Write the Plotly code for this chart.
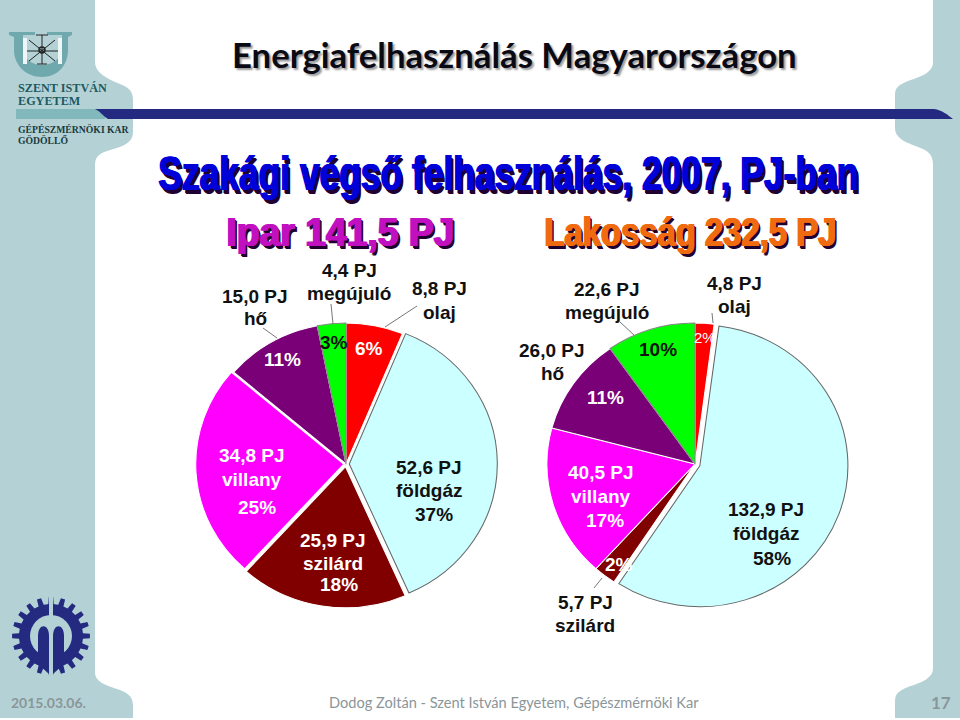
import math
import plotly.graph_objects as go

PANEL = "#b4d2d6"
NAVY = "#232a80"

slice_names = ["olaj", "földgáz", "szilárd", "villany", "hő", "megújuló"]
slice_colors = ["#ff0000", "#ccffff", "#800000", "#ff00ff", "#7a0078", "#00ff00"]
ipar_values = [8.8, 52.6, 25.9, 34.8, 15.0, 4.4]
lakossag_values = [4.8, 132.9, 5.7, 40.5, 26.0, 22.6]
ipar_pull = [0.0, 0.022, 0.02, 0.015, 0.0, 0.0]
lakossag_pull = [0.0, 0.035, 0.0, 0.0, 0.0, 0.0]

fig = go.Figure()
STRETCH = 1.05


def add_pie(values, pull, cx, cy, r, name):
    R = r * (1 + max(pull))
    fig.add_trace(go.Pie(
        values=values, labels=slice_names, name=name, sort=False, direction="clockwise",
        rotation=0, pull=pull, textinfo="none", hoverinfo="label+value",
        showlegend=False,
        domain=dict(x=[(cx - R) / 960, (cx + R) / 960], y=[1 - (cy + R) / 720, 1 - (cy - R) / 720]),
        marker=dict(colors=slice_colors,
                    line=dict(color=["#ffffff", "#666666", "#ffffff", "#ffffff", "#ffffff", "#888888"],
                              width=[1, 1, 1, 1, 1, 1])),
    ))


add_pie(ipar_values, ipar_pull, 346, 464, 141, "Ipar")
add_pie(lakossag_values, lakossag_pull, 695, 464, 141, "Lakosság")


def poly(pts):
    return "M" + " L".join(f"{x:.1f},{y:.1f}" for x, y in pts) + " Z"


def gear(cx, cy, ro, ri, n):
    pts = []
    for i in range(n):
        a = 2 * math.pi * i / n
        w = 2 * math.pi / n
        for f, rr in [(-0.5, ri), (-0.27, ri), (-0.18, ro), (0.18, ro), (0.27, ri)]:
            t = a + f * w - math.pi / 2
            pts.append((cx + rr * math.cos(t), cy + rr * math.sin(t)))
    return poly(pts)


shapes = [
    # side panels
    dict(type="path", fillcolor=PANEL, line_width=0, layer="below",
         path="M0,0 L95,0 L95,62 C95,72 105,78 120,84 C130,88 133,92 133,100 L133,132 C133,142 125,146 110,150 "
              "C100,153 95,156 95,165 L95,672 C95,682 105,685 120,690 C130,694 133,698 133,706 L133,718 L0,718 Z"),
    dict(type="path", fillcolor=PANEL, line_width=0, layer="below",
         path="M960,0 L933,0 L933,62 C933,72 923,76 908,81 C898,85 895,88 895,95 L895,128 C895,138 905,142 918,147 "
              "C929,151 933,155 933,165 L933,668 "
              "C933,678 923,682 908,687 C898,691 895,694 895,702 L895,718 L960,718 Z"),
    # header rule
    dict(type="path", fillcolor=NAVY, line_width=0, path="M95,109 L934,109 C942,110 948,115 953,119 L108,119 C103,116 100,111 95,109 Z"),
    dict(type="rect", x0=16, x1=105, y0=109, y1=119, fillcolor="#80b8bb", line_width=0, layer="below"),
    # university crest
    dict(type="path", fillcolor="#6fa9ad", line_width=0,
         path="M9,32 L35,32 L35,35 L23,35 L23,48 C23,58 31,65 42,65 C53,65 62,58 62,48 L62,35 L47,35 L47,32 L72,32 "
              "L72,35 L68,37 L68,50 C68,66 57,77 42,77 C27,77 14,66 14,50 L14,37 L9,35 Z"),
    dict(type="rect", x0=23, x1=27, y0=38, y1=64, fillcolor="#eef6f6", line_width=0),
    dict(type="rect", x0=58, x1=62, y0=38, y1=64, fillcolor="#eef6f6", line_width=0),
    dict(type="line", x0=27, y0=51, x1=58, y1=51, line=dict(color="#222", width=1)),
    dict(type="line", x0=42, y0=35, x1=42, y1=64, line=dict(color="#222", width=1)),
    dict(type="line", x0=36, y0=35, x1=48, y1=35, line=dict(color="#222", width=1)),
    dict(type="line", x0=37, y0=64, x1=47, y1=64, line=dict(color="#222", width=1)),
    dict(type="line", x0=29, y0=40, x1=55, y1=61, line=dict(color="#222", width=1)),
    dict(type="line", x0=29, y0=61, x1=55, y1=40, line=dict(color="#222", width=1)),
    dict(type="circle", x0=39, x1=45, y0=47, y1=53, fillcolor="rgba(0,0,0,0)", line=dict(color="#222", width=1.5)),
    # gear emblem
    dict(type="path", fillcolor=NAVY, line_width=0, path=gear(51, 636, 39, 32, 20)),
    dict(type="circle", x0=30, x1=72, y0=615, y1=657, fillcolor=PANEL, line_width=0),
    dict(type="rect", x0=49, x1=53, y0=596, y1=626, fillcolor=PANEL, line_width=0),
    dict(type="rect", x0=49, x1=53, y0=640, y1=676, fillcolor=PANEL, line_width=0),
    dict(type="path", fillcolor=NAVY, line_width=0, path="M38,664 L38,636 C38,623 49,623 49,636 L49,674 Z"),
    dict(type="path", fillcolor=NAVY, line_width=0, path="M53,674 L53,636 C53,623 64,623 64,636 L64,664 Z"),
    # leader lines
    dict(type="line", x0=385, y0=327, x1=417, y1=306, line=dict(color="#777", width=1)),
    dict(type="line", x0=333, y0=324, x1=331, y1=304, line=dict(color="#777", width=1)),
    dict(type="line", x0=277, y0=338, x1=263, y1=328, line=dict(color="#777", width=1)),
    dict(type="line", x0=713, y0=323, x1=712, y1=313, line=dict(color="#777", width=1)),
    dict(type="line", x0=634, y0=335, x1=620, y1=322, line=dict(color="#777", width=1)),
    dict(type="line", x0=602, y0=578, x1=594, y1=588, line=dict(color="#777", width=1)),
]

ARIAL = "Liberation Sans"
annotations = []


def text(x, y, s, size=17, color="#111111", family=ARIAL, bold=True, anchor="center", shadow=None):
    font = dict(family=family, size=size, color=color, weight=700 if bold else 400)
    if shadow:
        font["shadow"] = shadow
    annotations.append(dict(x=x, y=y, xref="x", yref="y", text=s, showarrow=False, xanchor=anchor,
                            yanchor="middle", font=font, align="center"))


HEAVY = "1px 0 0 {c},-1px 0 0 {c},2px 2px 0 #200030,3px 3px 0 #200030"
text(514, 54, "Energiafelhasználás Magyarországon", size=34.7, color="#0a0a14", family="Lato",
     shadow="2px 2px 2px #999")
text(508, 173, "Szakági végső felhasználás, 2007, PJ-ban", size=34, color="#0000d8",
     shadow=HEAVY.format(c="#0000d8"))
text(340, 232, "Ipar 141,5 PJ", size=41, color="#c010c0", shadow=HEAVY.format(c="#c010c0"))
text(690, 232, "Lakosság 232,5 PJ", size=41, color="#f06a10", shadow=HEAVY.format(c="#f06a10"))

for x, y, s, c in [
    (349, 270, "4,4 PJ", "#111"), (349, 293, "megújuló", "#111"),
    (255, 296, "15,0 PJ", "#111"), (255, 318, "hő", "#111"),
    (439, 288, "8,8 PJ", "#111"), (439, 312, "olaj", "#111"),
    (252, 455, "34,8 PJ", "#ffffff"), (252, 479, "villany", "#ffffff"), (257, 507, "25%", "#ffffff"),
    (429, 467, "52,6 PJ", "#111"), (429, 490, "földgáz", "#111"), (434, 514, "37%", "#111"),
    (333, 540, "25,9 PJ", "#ffffff"), (333, 563, "szilárd", "#ffffff"), (339, 584, "18%", "#ffffff"),
    (282, 359, "11%", "#ffffff"), (334, 342, "3%", "#111"), (369, 348, "6%", "#ffffff"),
    (607, 289, "22,6 PJ", "#111"), (607, 312, "megújuló", "#111"),
    (734, 283, "4,8 PJ", "#111"), (734, 306, "olaj", "#111"),
    (552, 350, "26,0 PJ", "#111"), (552, 373, "hő", "#111"),
    (605, 397, "11%", "#ffffff"), (658, 349, "10%", "#111"),
    (601, 472, "40,5 PJ", "#ffffff"), (601, 496, "villany", "#ffffff"), (605, 520, "17%", "#ffffff"),
    (766, 509, "132,9 PJ", "#111"), (766, 533, "földgáz", "#111"), (772, 558, "58%", "#111"),
    (585, 602, "5,7 PJ", "#111"), (585, 625, "szilárd", "#111"),
]:
    text(x, y, s, size=19, color=c)
text(705, 337, "2%", size=15, color="#ffffff", bold=False)
text(619, 564, "2%", size=19, color="#ffffff")

text(16, 88, "SZENT ISTVÁN", size=12.2, color="#1d5a5f", family="Liberation Serif", anchor="left")
text(16, 101, "EGYETEM", size=12.2, color="#1d5a5f", family="Liberation Serif", anchor="left")
text(16, 129, "GÉPÉSZMÉRNÖKI KAR", size=9.7, color="#1a3a3e", family="Liberation Serif", anchor="left")
text(16, 140, "GÖDÖLLŐ", size=9.7, color="#1a3a3e", family="Liberation Serif", anchor="left")
text(48, 702, "2015.03.06.", size=14, color="#8a9699", family="Lato")
text(514, 702, "Dodog Zoltán - Szent István Egyetem, Gépészmérnöki Kar", size=14.6, color="#8a9699",
     family="Lato", bold=False)
text(941, 702, "17", size=17, color="#8a9699", family="Lato")

fig.update_layout(
    width=960, height=720, margin=dict(l=0, r=0, t=0, b=0),
    paper_bgcolor="white", plot_bgcolor="rgba(0,0,0,0)", showlegend=False,
    xaxis=dict(range=[0, 960], visible=False, fixedrange=True),
    yaxis=dict(range=[720, 0], visible=False, fixedrange=True),
    shapes=shapes, annotations=annotations,
)
fig.add_trace(go.Scatter(x=[], y=[], showlegend=False, hoverinfo="skip"))

# The reference is a stretched slide image: fit the heading text and widen the pies alike.
post = """
document.body.style.margin='0';document.body.style.overflow='hidden';
var fit={'Szakági':[700,1.44],'Ipar':[228,1],'Lakosság':[292,1]};
document.querySelectorAll('.annotation-text').forEach(function(t){
  var k=t.textContent.split(' ')[0];
  if(fit[k]){
    t.setAttribute('textLength',fit[k][0]);t.setAttribute('lengthAdjust','spacingAndGlyphs');
    if(fit[k][1]!==1){var b=t.getBBox();var c=b.y+b.height/2;
      t.setAttribute('transform','translate(0,'+c+') scale(1,'+fit[k][1]+') translate(0,'+(-c)+')');}
  }
});
var cx=[346,695];
document.querySelectorAll('.pielayer .trace').forEach(function(g,i){
  g.setAttribute('transform','translate('+cx[i]+',0) scale(%s,1) translate('+(-cx[i])+',0)');
});
""" % STRETCH
fig.write_html("out.html", post_script=post, config={"displayModeBar": False})
